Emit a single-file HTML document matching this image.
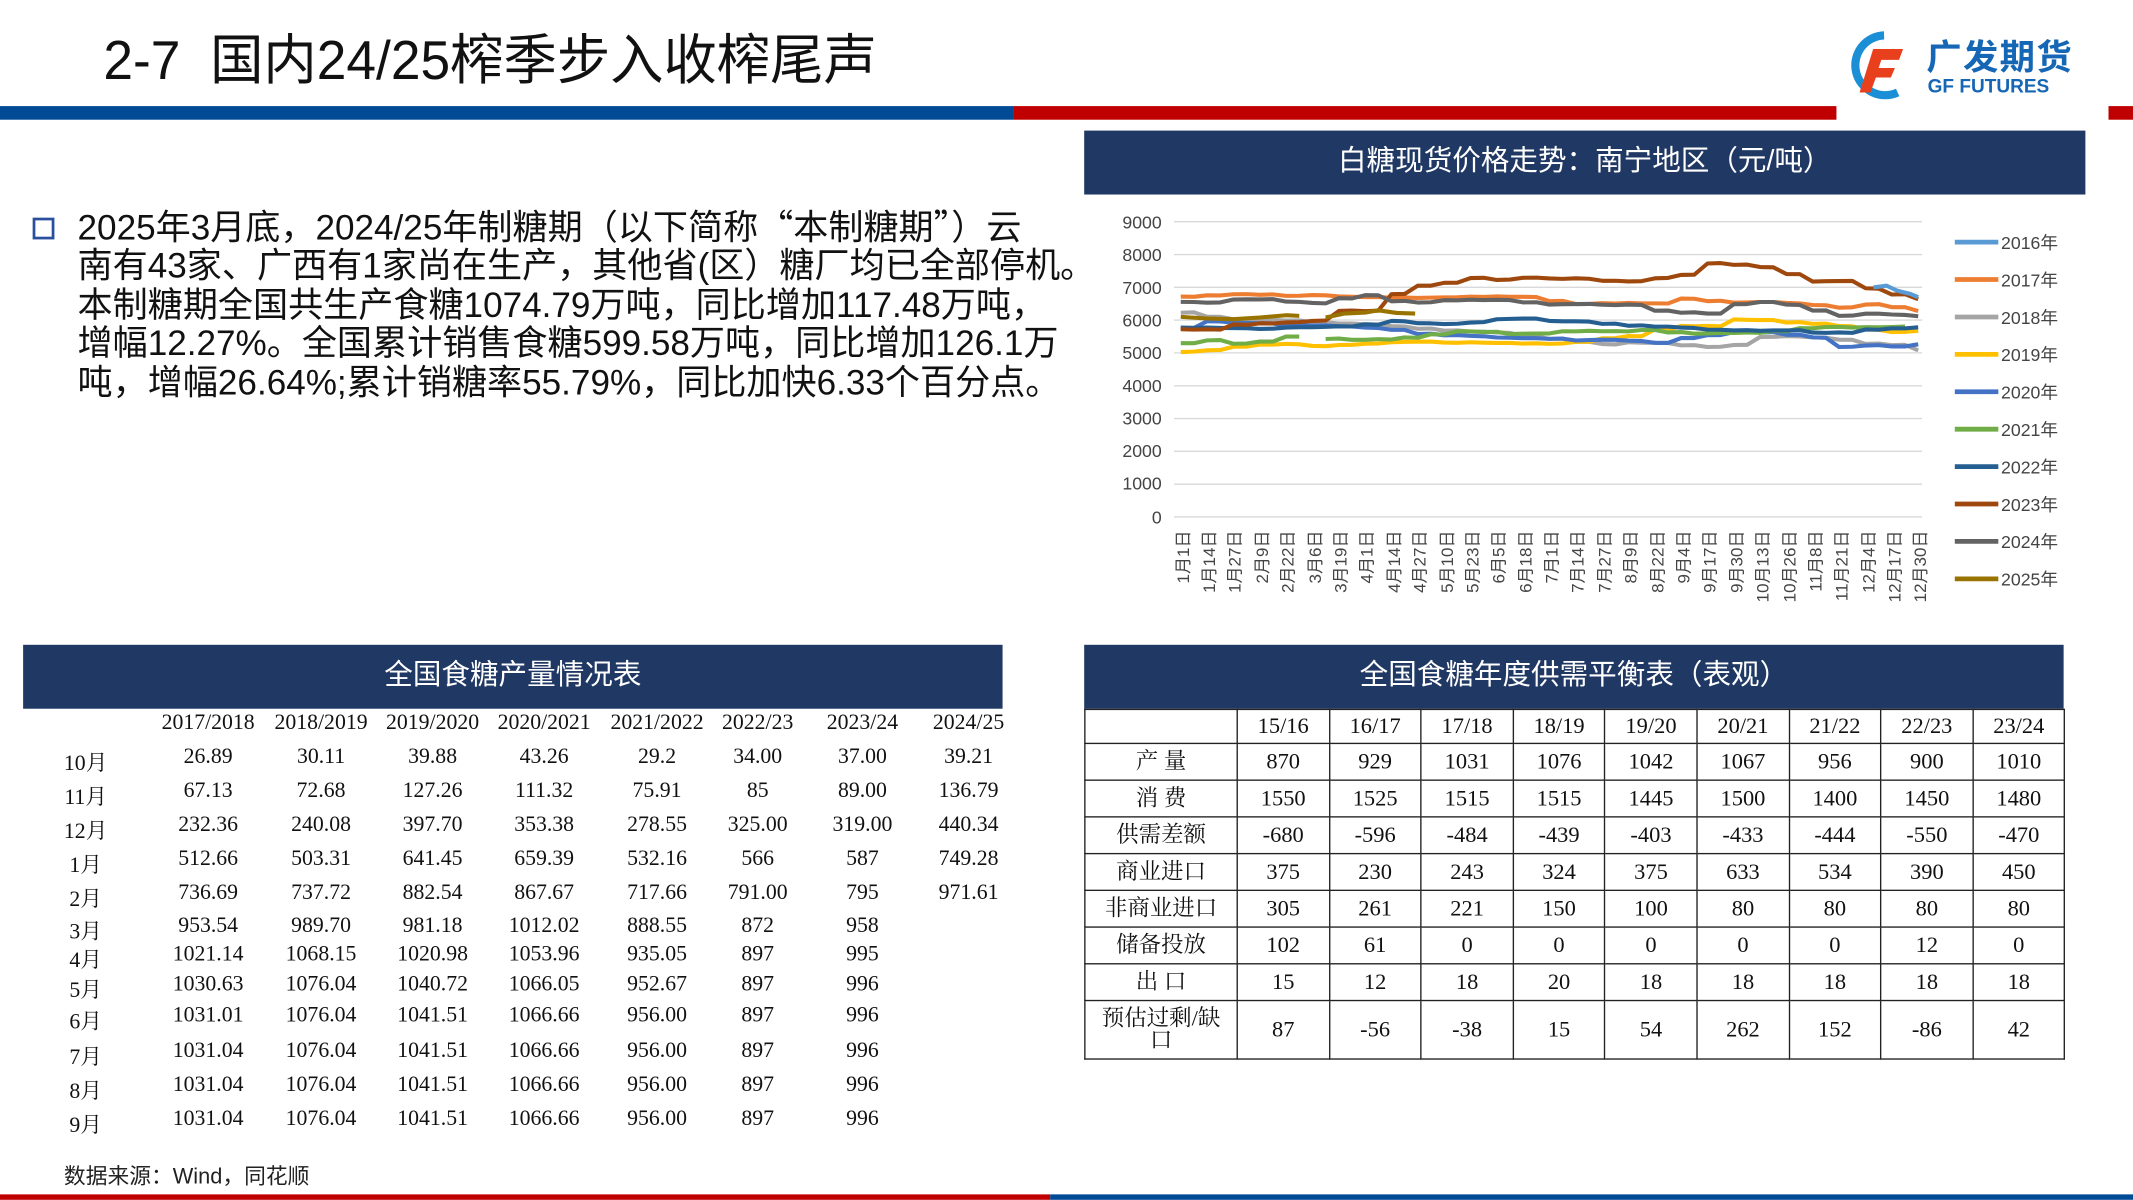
<!DOCTYPE html>
<html><head><meta charset="utf-8">
<style>
html,body{margin:0;padding:0;background:#fff;}
body{width:2133px;height:1200px;overflow:hidden;position:relative;}
#w{position:absolute;left:0;top:0;width:1568px;height:882px;transform:scale(1.36033);transform-origin:0 0;font-family:"Liberation Sans","Noto Sans CJK SC",sans-serif;}
.a{position:absolute;white-space:nowrap;}
.q{font-family:"Noto Sans CJK SC",sans-serif;}
.bar{position:absolute;background:#203864;color:#fff;text-align:center;font-size:21px;}
.lt{position:absolute;font-family:"Liberation Serif","Noto Serif CJK SC",serif;font-size:16px;color:#111;}
.lt div{position:absolute;transform:translateX(-50%);white-space:nowrap;}
table.r{position:absolute;left:797px;top:521px;border-collapse:collapse;font-family:"Liberation Serif","Noto Serif CJK SC",serif;font-size:16.5px;color:#111;table-layout:fixed;}
table.r td{border:1.3px solid #222;text-align:center;padding:0;line-height:16px;}
</style></head><body><div id="w">
<div class="a" style="left:76px;top:12px;font-size:40px;color:#111;transform:scaleX(0.98);transform-origin:0 0;">2-7&nbsp; 国内24/25榨季步入收榨尾声</div>
<div class="a" style="left:0;top:78px;width:745px;height:10px;background:#004a96;"></div>
<div class="a" style="left:745px;top:78px;width:823px;height:10px;background:#c00000;"></div>
<div class="a" style="left:1350px;top:0;width:200px;height:96px;background:#fff;"></div>
<svg class="a" style="left:1355px;top:22px" width="52" height="52" viewBox="0 0 52 52"><path d="M30 4 A22 22 0 1 0 40 46" fill="none" stroke="#1a8fd6" stroke-width="6"/><path d="M22 14 H44 L41 22 H28 L26 28 H38 L35 35 H24 L20 46 H12 Z" fill="#e8401c"/></svg>
<div class="a" style="left:1416px;top:22px;font-size:26px;font-weight:bold;color:#1566b4;letter-spacing:1px;">广发期货</div>
<div class="a" style="left:1417px;top:55px;font-size:14px;font-weight:bold;color:#1566b4;">GF FUTURES</div>

<div class="a" style="left:24px;top:160px;width:12px;height:12px;border:2.5px solid #2a4f9c;"></div>
<div class="a" style="left:57px;top:152px;font-size:25.8px;line-height:28.4px;color:#111;">2025年3月底，2024/25年制糖期（以下简称<span class="q">“</span>本制糖期<span class="q">”</span>）云<br>南有43家、广西有1家尚在生产，其他省(区）糖厂均已全部停机。<br>本制糖期全国共生产食糖1074.79万吨，同比增加117.48万吨，<br>增幅12.27%。全国累计销售食糖599.58万吨，同比增加126.1万<br>吨，增幅26.64%;累计销糖率55.79%，同比加快6.33个百分点。</div>

<div class="bar" style="left:797px;top:96px;width:736px;height:47px;line-height:45px;">白糖现货价格走势：南宁地区（元/吨）</div>
<svg class="a" style="left:0;top:0" width="1568" height="882" id="ch">
<g stroke="#d9d9d9" stroke-width="1">
<line x1="863" x2="1413" y1="163" y2="163"/><line x1="863" x2="1413" y1="187.1" y2="187.1"/><line x1="863" x2="1413" y1="211.2" y2="211.2"/><line x1="863" x2="1413" y1="235.3" y2="235.3"/><line x1="863" x2="1413" y1="259.4" y2="259.4"/><line x1="863" x2="1413" y1="283.6" y2="283.6"/><line x1="863" x2="1413" y1="307.7" y2="307.7"/><line x1="863" x2="1413" y1="331.8" y2="331.8"/><line x1="863" x2="1413" y1="355.9" y2="355.9"/><line x1="863" x2="1413" y1="380" y2="380"/>
</g>
<g font-size="13" fill="#444" text-anchor="end" font-family="Liberation Sans,sans-serif">
<text x="854" y="168">9000</text><text x="854" y="192">8000</text><text x="854" y="216">7000</text><text x="854" y="240">6000</text><text x="854" y="264">5000</text><text x="854" y="288">4000</text><text x="854" y="312">3000</text><text x="854" y="336">2000</text><text x="854" y="360">1000</text><text x="854" y="385">0</text>
</g>
<g id="xl" font-size="12.5" fill="#444" font-family="Liberation Sans,Noto Sans CJK SC,sans-serif" text-anchor="end">
<text transform="translate(874,390) rotate(-90)">1月1日</text><text transform="translate(893,390) rotate(-90)">1月14日</text><text transform="translate(912,390) rotate(-90)">1月27日</text><text transform="translate(932,390) rotate(-90)">2月9日</text><text transform="translate(951,390) rotate(-90)">2月22日</text><text transform="translate(971,390) rotate(-90)">3月6日</text><text transform="translate(990,390) rotate(-90)">3月19日</text><text transform="translate(1009,390) rotate(-90)">4月1日</text><text transform="translate(1029,390) rotate(-90)">4月14日</text><text transform="translate(1048,390) rotate(-90)">4月27日</text><text transform="translate(1068,390) rotate(-90)">5月10日</text><text transform="translate(1087,390) rotate(-90)">5月23日</text><text transform="translate(1106,390) rotate(-90)">6月5日</text><text transform="translate(1126,390) rotate(-90)">6月18日</text><text transform="translate(1145,390) rotate(-90)">7月1日</text><text transform="translate(1164,390) rotate(-90)">7月14日</text><text transform="translate(1184,390) rotate(-90)">7月27日</text><text transform="translate(1203,390) rotate(-90)">8月9日</text><text transform="translate(1223,390) rotate(-90)">8月22日</text><text transform="translate(1242,390) rotate(-90)">9月4日</text><text transform="translate(1261,390) rotate(-90)">9月17日</text><text transform="translate(1281,390) rotate(-90)">9月30日</text><text transform="translate(1300,390) rotate(-90)">10月13日</text><text transform="translate(1320,390) rotate(-90)">10月26日</text><text transform="translate(1339,390) rotate(-90)">11月8日</text><text transform="translate(1358,390) rotate(-90)">11月21日</text><text transform="translate(1378,390) rotate(-90)">12月4日</text><text transform="translate(1397,390) rotate(-90)">12月17日</text><text transform="translate(1416,390) rotate(-90)">12月30日</text>
</g>
<g id="ser" fill="none" stroke-width="3" stroke-linejoin="round"></g>
<g font-size="13" fill="#444" font-family="Liberation Sans,Noto Sans CJK SC,sans-serif">
<line x1="1437" x2="1469" y1="178" y2="178" stroke="#5b9bd5" stroke-width="3.5"/><text x="1471" y="183">2016年</text>
<line x1="1437" x2="1469" y1="205.5" y2="205.5" stroke="#ed7d31" stroke-width="3.5"/><text x="1471" y="210.5">2017年</text>
<line x1="1437" x2="1469" y1="233" y2="233" stroke="#a5a5a5" stroke-width="3.5"/><text x="1471" y="238">2018年</text>
<line x1="1437" x2="1469" y1="260.5" y2="260.5" stroke="#ffc000" stroke-width="3.5"/><text x="1471" y="265.5">2019年</text>
<line x1="1437" x2="1469" y1="288" y2="288" stroke="#4472c4" stroke-width="3.5"/><text x="1471" y="293">2020年</text>
<line x1="1437" x2="1469" y1="315.5" y2="315.5" stroke="#70ad47" stroke-width="3.5"/><text x="1471" y="320.5">2021年</text>
<line x1="1437" x2="1469" y1="343" y2="343" stroke="#255e91" stroke-width="3.5"/><text x="1471" y="348">2022年</text>
<line x1="1437" x2="1469" y1="370.5" y2="370.5" stroke="#9e480e" stroke-width="3.5"/><text x="1471" y="375.5">2023年</text>
<line x1="1437" x2="1469" y1="398" y2="398" stroke="#636363" stroke-width="3.5"/><text x="1471" y="403">2024年</text>
<line x1="1437" x2="1469" y1="425.5" y2="425.5" stroke="#997300" stroke-width="3.5"/><text x="1471" y="430.5">2025年</text>
</g>
</svg>

<div class="bar" style="left:17px;top:474px;width:720px;height:47px;line-height:45px;">全国食糖产量情况表</div>
<div class="lt" id="lt" style="left:0;top:0;width:800px;height:882px;"></div>
<div class="a" style="left:47px;top:851px;font-size:16px;color:#222;">数据来源：Wind，同花顺</div>

<div class="bar" style="left:797px;top:474px;width:720px;height:47px;line-height:45px;">全国食糖年度供需平衡表（表观）</div>
<table class="r">
<colgroup><col style="width:112px"><col style="width:67.6px"><col style="width:67.6px"><col style="width:67.6px"><col style="width:67.6px"><col style="width:67.6px"><col style="width:67.6px"><col style="width:67.6px"><col style="width:67.6px"><col style="width:67.6px"></colgroup>
<tr style="height:25px"><td></td><td>15/16</td><td>16/17</td><td>17/18</td><td>18/19</td><td>19/20</td><td>20/21</td><td>21/22</td><td>22/23</td><td>23/24</td></tr>
<tr style="height:27px"><td>产&nbsp;量</td><td>870</td><td>929</td><td>1031</td><td>1076</td><td>1042</td><td>1067</td><td>956</td><td>900</td><td>1010</td></tr>
<tr style="height:27px"><td>消&nbsp;费</td><td>1550</td><td>1525</td><td>1515</td><td>1515</td><td>1445</td><td>1500</td><td>1400</td><td>1450</td><td>1480</td></tr>
<tr style="height:27px"><td>供需差额</td><td>-680</td><td>-596</td><td>-484</td><td>-439</td><td>-403</td><td>-433</td><td>-444</td><td>-550</td><td>-470</td></tr>
<tr style="height:27px"><td>商业进口</td><td>375</td><td>230</td><td>243</td><td>324</td><td>375</td><td>633</td><td>534</td><td>390</td><td>450</td></tr>
<tr style="height:27px"><td>非商业进口</td><td>305</td><td>261</td><td>221</td><td>150</td><td>100</td><td>80</td><td>80</td><td>80</td><td>80</td></tr>
<tr style="height:27px"><td>储备投放</td><td>102</td><td>61</td><td>0</td><td>0</td><td>0</td><td>0</td><td>0</td><td>12</td><td>0</td></tr>
<tr style="height:27px"><td>出&nbsp;口</td><td>15</td><td>12</td><td>18</td><td>20</td><td>18</td><td>18</td><td>18</td><td>18</td><td>18</td></tr>
<tr style="height:43px"><td>预估过剩/缺<br>口</td><td>87</td><td>-56</td><td>-38</td><td>15</td><td>54</td><td>262</td><td>152</td><td>-86</td><td>42</td></tr>
</table>

<div class="a" style="left:0;top:878px;width:772px;height:4px;background:#c00000;"></div>
<div class="a" style="left:772px;top:878px;width:796px;height:4px;background:#004a96;"></div>
</div>
<script>
(function(){
var X=function(i){return 868+i*19.36;},Y=function(v){return 380-v*0.02411;};
var S=[
["#ed7d31",[6700,6750,6800,6800,6750,6750,6700,6700,6700,6700,6700,6700,6700,6700,6600,6500,6500,6500,6500,6650,6600,6550,6550,6500,6450,6400,6500,6400,6250]],
["#a5a5a5",[6250,6100,6000,6000,6000,5950,5900,5850,5800,5750,5700,5650,5600,5500,5450,5350,5250,5300,5300,5250,5200,5250,5500,5500,5450,5400,5300,5250,5050]],
["#ffc000",[5050,5100,5200,5250,5250,5200,5250,5300,5350,5350,5300,5300,5300,5300,5300,5350,5450,5500,5700,5800,5800,6000,6000,5950,5900,5800,5700,5650,5700]],
["#4472c4",[5750,5950,5900,5900,5850,5850,5800,5750,5700,5600,5550,5500,5450,5450,5450,5400,5400,5350,5300,5450,5550,5650,5650,5550,5450,5200,5250,5200,5250]],
["#70ad47",[5300,5400,5300,5350,5500,null,5450,5400,5400,5450,5550,5650,5650,5600,5600,5650,5650,5650,5700,5650,5600,5600,5600,5650,5750,5800,5800,5800,5800]],
["#255e91",[5750,5750,5750,5750,5800,5800,5800,5850,5950,5900,5900,5950,6050,6050,5950,5950,5900,5850,5800,5750,5700,5700,5700,5700,5600,5600,5700,5750,5800]],
["#9e480e",[5700,5700,5850,5900,5950,6000,6300,6300,6800,7050,7150,7300,7250,7300,7250,7250,7200,7200,7300,7400,7750,7700,7600,7400,7200,7200,6950,6800,6650]],
["#636363",[6550,6550,6650,6650,6550,6500,6650,6750,6600,6550,6600,6600,6600,6550,6500,6500,6450,6450,6300,6250,6200,6500,6550,6450,6300,6150,6200,6150,6100]]
];
var g=document.getElementById('ser'),h='';
function poly(c,pts){return '<polyline stroke="'+c+'" points="'+pts.join(' ')+'"/>';}
S.forEach(function(s){var pts=[],k=0;s[1].forEach(function(v){if(v===null){h+=poly(s[0],pts);pts=[];k+=0.5;return;}var x=X(k);var j=(Math.sin(k*7.3+v)*25);pts.push(x.toFixed(1)+','+Y(v+j).toFixed(1));pts.push((x+9.7).toFixed(1)+','+Y(v+j*0.5).toFixed(1));k++;});pts.pop();h+=poly(s[0],pts);});
h+=poly('#5b9bd5',[[X(26.3),Y(7000)],[X(26.8),Y(7050)],[X(27.2),Y(6900)],[X(27.7),Y(6800)],[X(28),Y(6700)]].map(function(p){return p.join(',')}));
h+=poly('#997300',[[X(0),Y(6100)],[X(1),Y(6050)],[X(2),Y(6030)],[X(3),Y(6080)],[X(4),Y(6150)],[X(4.5),Y(6130)]].map(function(p){return p.join(',')}));
h+=poly('#997300',[[X(5.5),Y(6080)],[X(6.2),Y(6200)],[X(7),Y(6230)],[X(7.5),Y(6300)],[X(8.2),Y(6220)],[X(8.9),Y(6200)]].map(function(p){return p.join(',')}));
g.innerHTML=h;
var cols=[153,236,318,400,483,557,634,712];
var rows=[["","2017/2018","2018/2019","2019/2020","2020/2021","2021/2022","2022/23","2023/24","2024/25"],
["10月","26.89","30.11","39.88","43.26","29.2","34.00","37.00","39.21"],
["11月","67.13","72.68","127.26","111.32","75.91","85","89.00","136.79"],
["12月","232.36","240.08","397.70","353.38","278.55","325.00","319.00","440.34"],
["1月","512.66","503.31","641.45","659.39","532.16","566","587","749.28"],
["2月","736.69","737.72","882.54","867.67","717.66","791.00","795","971.61"],
["3月","953.54","989.70","981.18","1012.02","888.55","872","958",""],
["4月","1021.14","1068.15","1020.98","1053.96","935.05","897","995",""],
["5月","1030.63","1076.04","1040.72","1066.05","952.67","897","996",""],
["6月","1031.01","1076.04","1041.51","1066.66","956.00","897","996",""],
["7月","1031.04","1076.04","1041.51","1066.66","956.00","897","996",""],
["8月","1031.04","1076.04","1041.51","1066.66","956.00","897","996",""],
["9月","1031.04","1076.04","1041.51","1066.66","956.00","897","996",""]];
var ys=[534,559,584,609,634,659,683,704,726,749,775,800,825],t='';
rows.forEach(function(r,i){r.forEach(function(c,j){var x=j==0?63:cols[j-1];t+='<div style="left:'+x+'px;top:'+(ys[i]-11)+'px">'+c+'</div>';});});
document.getElementById('lt').innerHTML=t;
})();
</script>
</body></html>
